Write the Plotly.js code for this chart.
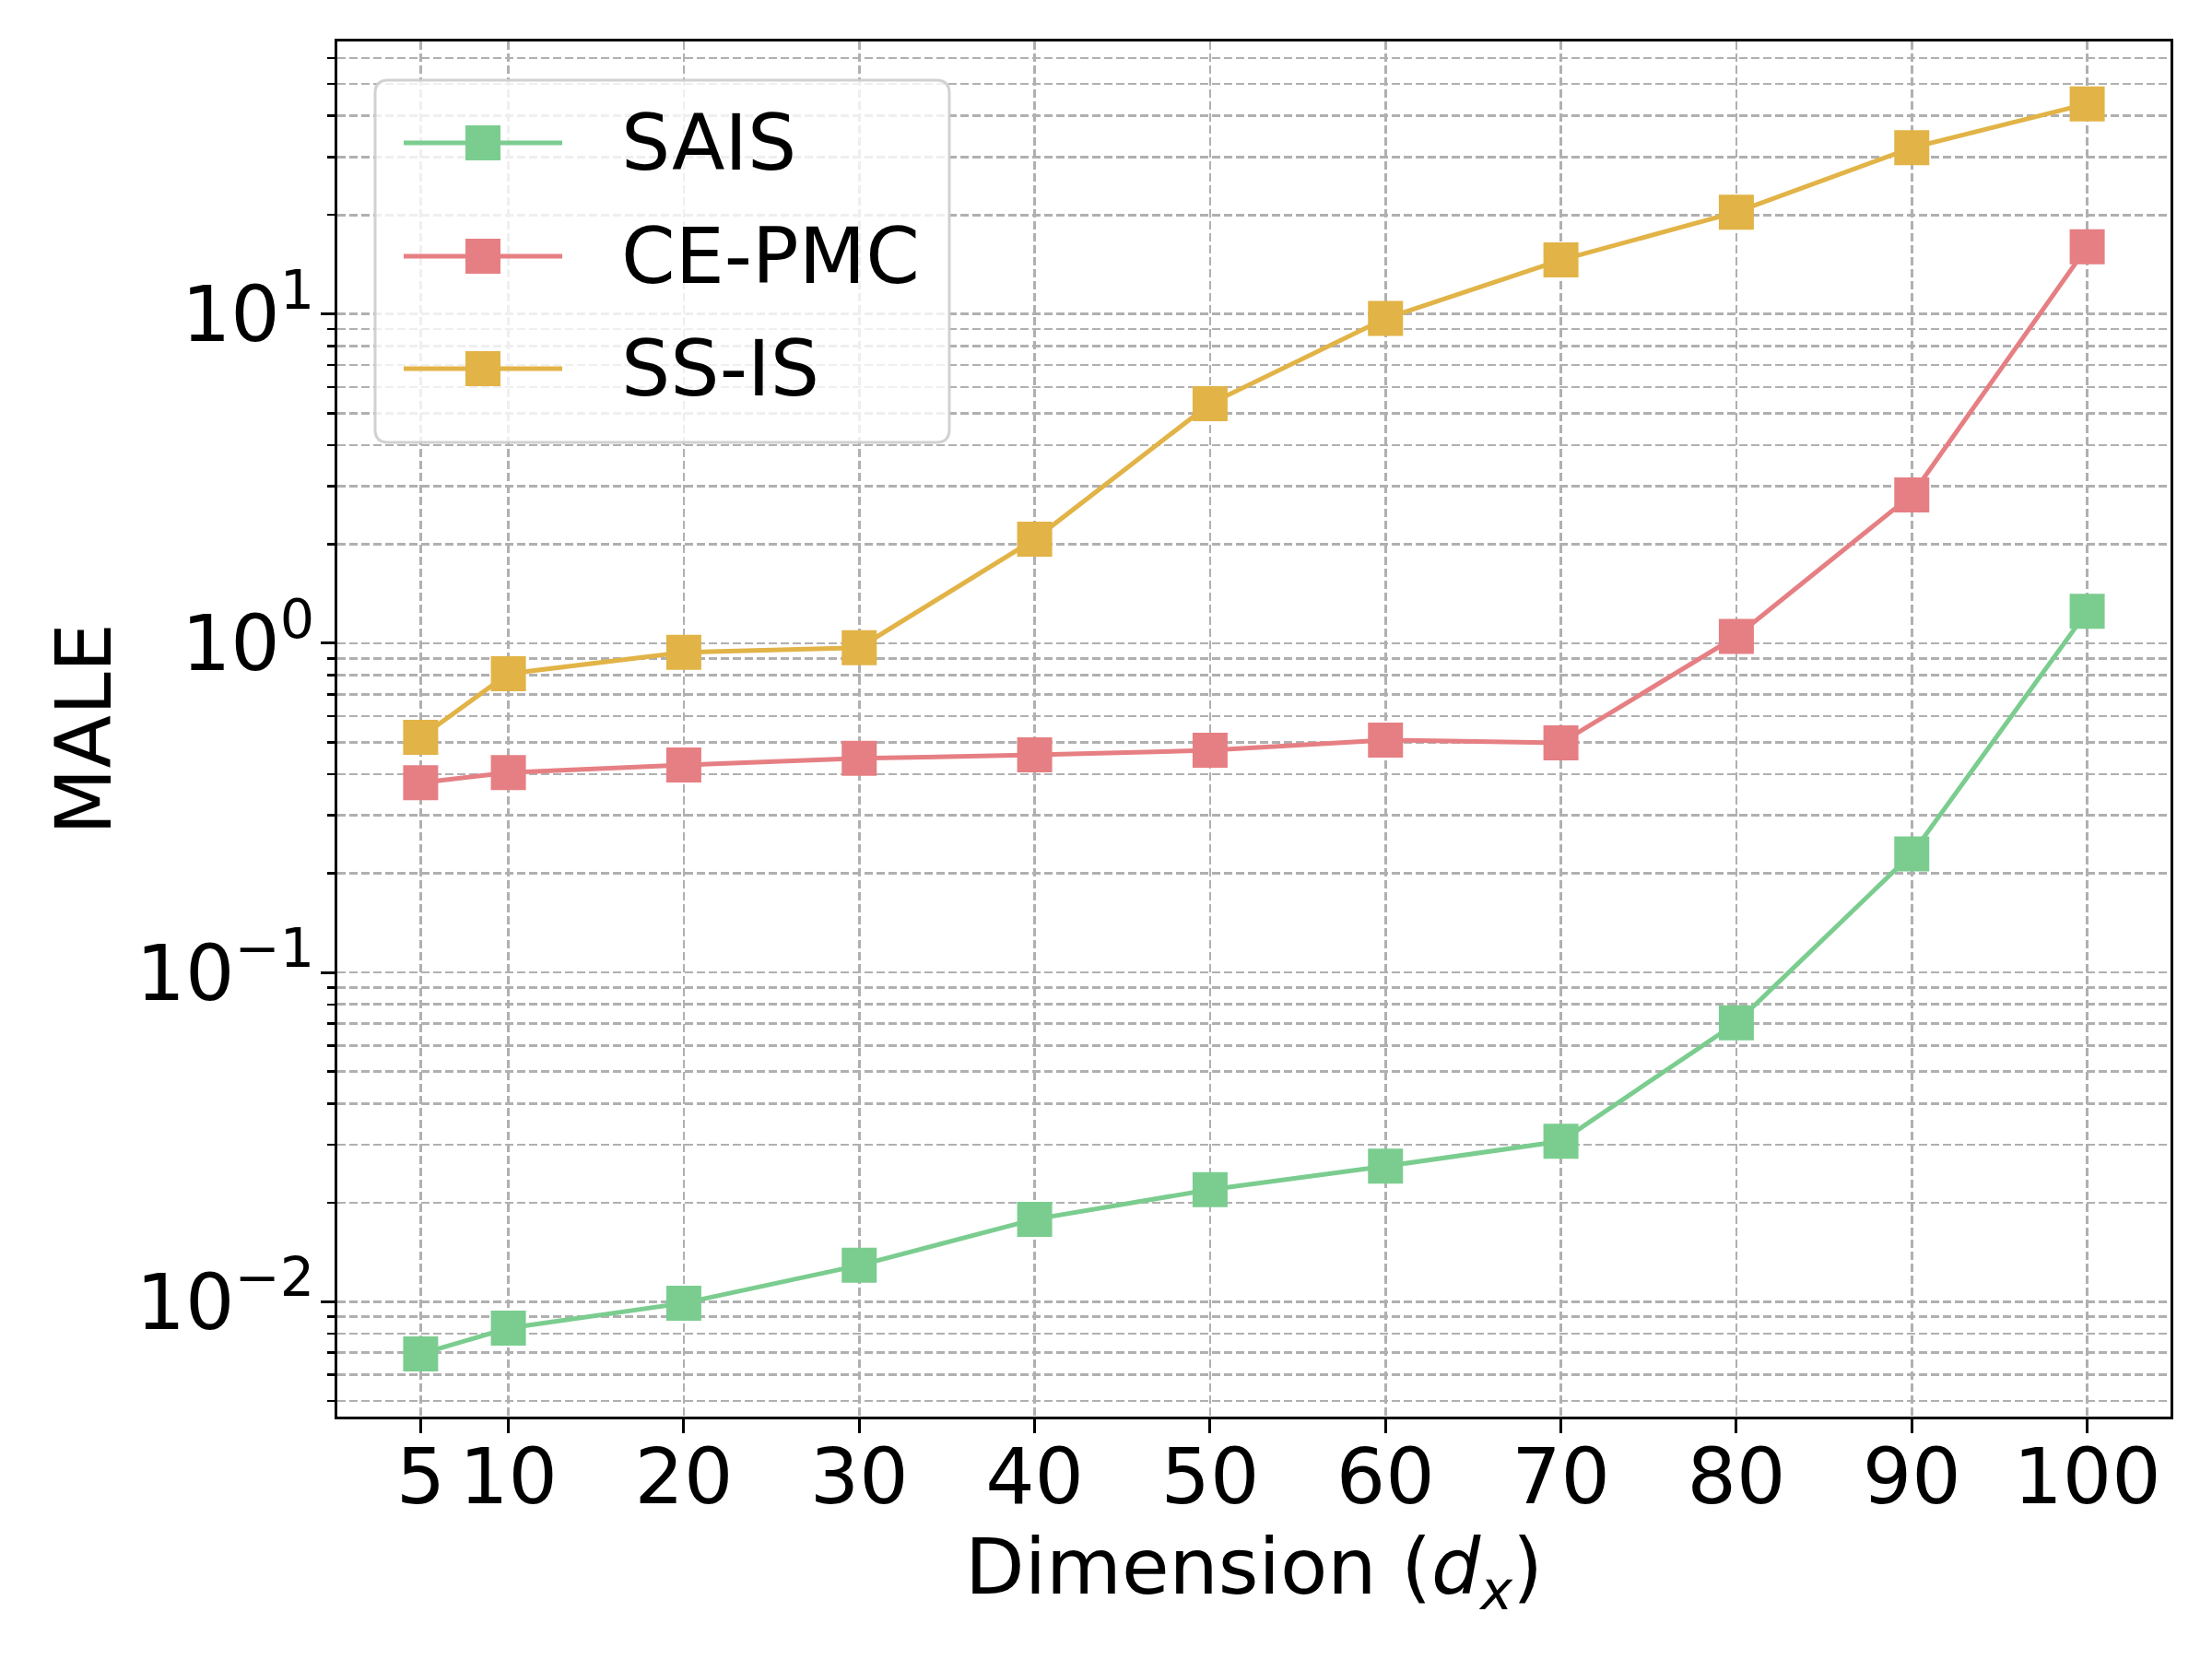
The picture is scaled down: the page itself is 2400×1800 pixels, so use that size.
<!DOCTYPE html>
<html><head><meta charset="utf-8">
<script src="https://cdn.plot.ly/plotly-3.0.1.min.js"></script>
<style>html,body{margin:0;padding:0;background:#fff}</style>
</head><body><div id="chart" style="width:2400px;height:1800px"></div>
<script>
// ---- data ----
const dims = [5, 10, 20, 30, 40, 50, 60, 70, 80, 90, 100];
const saisMALE  = [0.00694, 0.00831, 0.0099, 0.0129, 0.0178, 0.0219, 0.0258, 0.0307, 0.0703, 0.229, 1.25];
const cepmcMALE = [0.377, 0.405, 0.427, 0.447, 0.458, 0.473, 0.508, 0.498, 1.05, 2.82, 16.0];
const ssisMALE  = [0.518, 0.808, 0.939, 0.970, 2.07, 5.34, 9.7, 14.6, 20.4, 32.0, 43.5];
const seriesNames  = ['SAIS', 'CE-PMC', 'SS-IS'];
const seriesValues = [saisMALE, cepmcMALE, ssisMALE];
const seriesColors = ['#7BCD8F', '#E67F83', '#E2B346'];
const yTickVals = [0.01, 0.1, 1, 10];
const yTickText = ['10<sup>\u22122</sup>', '10<sup>\u22121</sup>', '10<sup>0</sup>', '10<sup>1</sup>'];
const xTitle = 'Dimension (<i>d</i><sub><i>x</i></sub>)';
const yTitle = 'MALE';

// minor log ticks (2..9 in every decade)
const minorVals = [];
for (let e = -3; e <= 1; e++) for (let m = 2; m <= 9; m++) minorVals.push(+(m * Math.pow(10, e)).toPrecision(3));

// ---- geometry ----
const W = 2400, H = 1800;
const M = {l: 366, r: 45, t: 45, b: 263};
const PW = W - M.l - M.r, PH = H - M.t - M.b;
const px2x = p => (p - M.l) / PW;
const px2y = p => (H - M.b - p) / PH;
const FONT = 'DejaVu Sans';
const FS = 84;
const gridCol = '#b0b0b0';
const DASH = '9px,4px';

const traces = seriesNames.map((n, i) => ({
  type: 'scatter', mode: 'lines+markers', name: n,
  x: dims, y: seriesValues[i],
  line: {color: seriesColors[i], width: 5},
  marker: {symbol: 'square', size: 38, color: seriesColors[i], line: {width: 0}},
  showlegend: false
}));

// ---- custom legend (matplotlib style) ----
const shapes = [];
const annotations = [];
const bx0 = px2x(407), bx1 = px2x(1030), by1 = px2y(87), by0 = px2y(480);
const rx = 14 / PW, ry = 14 / PH;
shapes.push({
  type: 'path', xref: 'paper', yref: 'paper', layer: 'above',
  path: `M ${bx0 + rx},${by0} L ${bx1 - rx},${by0} Q ${bx1},${by0} ${bx1},${by0 + ry} L ${bx1},${by1 - ry} Q ${bx1},${by1} ${bx1 - rx},${by1} L ${bx0 + rx},${by1} Q ${bx0},${by1} ${bx0},${by1 - ry} L ${bx0},${by0 + ry} Q ${bx0},${by0} ${bx0 + rx},${by0} Z`,
  fillcolor: 'rgba(255,255,255,0.8)', line: {color: 'rgba(204,204,204,0.9)', width: 3}
});
const entryY = [155, 278, 400];
seriesNames.forEach((n, i) => {
  const yy = px2y(entryY[i]);
  shapes.push({type: 'line', xref: 'paper', yref: 'paper', layer: 'above',
    x0: px2x(438), x1: px2x(610), y0: yy, y1: yy,
    line: {color: seriesColors[i], width: 5}});
  shapes.push({type: 'rect', xref: 'paper', yref: 'paper', layer: 'above',
    xsizemode: 'pixel', ysizemode: 'pixel', xanchor: px2x(524), yanchor: yy,
    x0: -19, x1: 19, y0: -19, y1: 19,
    fillcolor: seriesColors[i], line: {width: 0}});
  annotations.push({xref: 'paper', yref: 'paper', x: px2x(672), y: yy,
    xanchor: 'left', yanchor: 'middle', showarrow: false, text: n,
    font: {family: FONT, size: FS, color: '#000'}});
});

const layout = {
  width: W, height: H, margin: M,
  paper_bgcolor: '#fff', plot_bgcolor: '#fff',
  font: {family: FONT, size: FS, color: '#000'},
  showlegend: false,
  xaxis: {
    range: [0.25, 104.75], tickmode: 'array', tickvals: dims,
    showline: true, mirror: true, linecolor: '#000', linewidth: 3,
    ticks: 'outside', ticklen: 15, tickwidth: 3, tickcolor: '#000',
    ticklabelstandoff: -25,
    showgrid: true, gridcolor: gridCol, gridwidth: 2.6, griddash: DASH,
    zeroline: false,
    tickfont: {family: FONT, size: FS, color: '#000'},
    title: {text: xTitle, font: {family: FONT, size: FS, color: '#000'}, standoff: 19}
  },
  yaxis: {
    type: 'log', range: [-2.349, 1.828],
    tickmode: 'array', tickvals: yTickVals, ticktext: yTickText,
    showline: true, mirror: true, linecolor: '#000', linewidth: 3,
    ticks: 'outside', ticklen: 15, tickwidth: 3, tickcolor: '#000',
    ticklabelstandoff: -10,
    showgrid: true, gridcolor: gridCol, gridwidth: 2.6, griddash: DASH,
    zeroline: false,
    tickfont: {family: FONT, size: FS, color: '#000'},
    minor: {tickmode: 'array', tickvals: minorVals, ticks: 'outside', ticklen: 8, tickwidth: 2.5,
            tickcolor: '#000', showgrid: true, gridcolor: gridCol, gridwidth: 2.6, griddash: DASH},
    title: {text: yTitle, font: {family: FONT, size: FS, color: '#000'}, standoff: 0}
  },
  shapes: shapes,
  annotations: annotations
};

Plotly.newPlot('chart', traces, layout, {staticPlot: true, displayModeBar: false});
</script>
</body></html>
